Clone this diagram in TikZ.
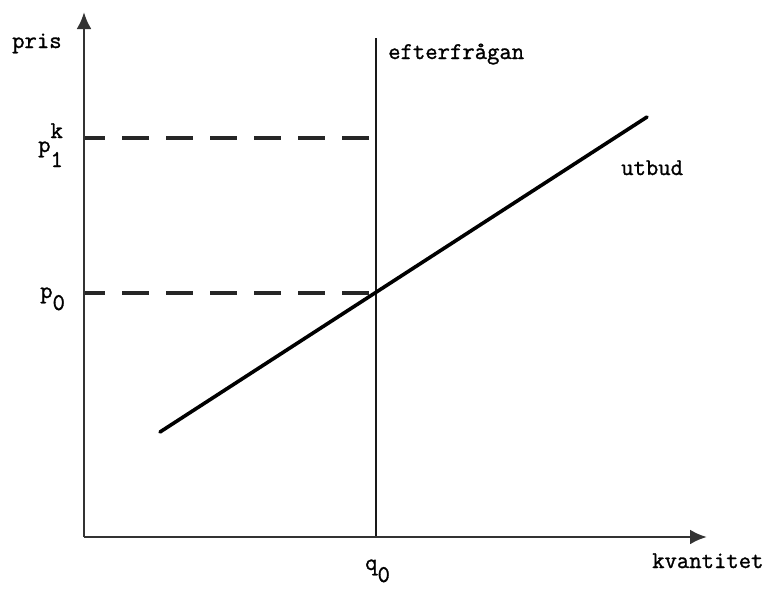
\documentclass[tikz,border=0pt]{standalone}
\usepackage{fontspec}
\newfontfamily\twfont[FakeBold=1.2]{Latin Modern Mono}
\usetikzlibrary{arrows.meta}
\begin{document}
\begin{tikzpicture}[x=1pt,y=-1pt,
  axis/.style={line width=2.8pt,draw=black!80,-{Latex[length=17pt,width=15pt]}},
  demand/.style={line width=2.4pt,draw=black!90},
  supply/.style={line width=3.6pt,draw=black,line cap=round},
  guide/.style={line width=3.4pt,draw=black!85,dash pattern=on 27pt off 17pt,dash phase=6pt},
  lbl/.style={font=\fontsize{24}{28}\selectfont\twfont,inner sep=0pt,anchor=base west}]
\useasboundingbox (0,0) rectangle (773,589);
\coordinate (O) at (84,537);
\coordinate (ytop) at (84,12);
\coordinate (xend) at (707,537);
\coordinate (dtop) at (376,38);
\coordinate (dbot) at (376,537);
\coordinate (p1l) at (84,138);
\coordinate (p1r) at (376,138);
\coordinate (p0l) at (84,293);
\coordinate (p0r) at (376,293);
\coordinate (s1) at (160,432);
\coordinate (s2) at (647,117);
\draw[guide] (p1l) -- (p1r);
\draw[guide] (p0l) -- (p0r);
\draw[demand] (dbot) -- (dtop);
\draw[supply] (s1) -- (s2);
\draw[axis] (O) -- (ytop);
\draw[axis] (O) -- (xend);
\node[lbl] (pris) at (12,48) {pris};
\node[lbl] (eft) at (388,59) {efterfrågan};
\node[lbl] (utb) at (621,175) {utbud};
\node[lbl] (kv) at (652,568) {kvantitet};
\node[lbl] (q0) at (365,570) {q\raisebox{-12pt}{0}};
\node[lbl] (p0) at (40,298) {p\raisebox{-12pt}{0}};
\node[lbl] (p1) at (38,152) {p\rlap{\raisebox{14pt}{k}}\raisebox{-15pt}{1}};
\end{tikzpicture}
\end{document}
